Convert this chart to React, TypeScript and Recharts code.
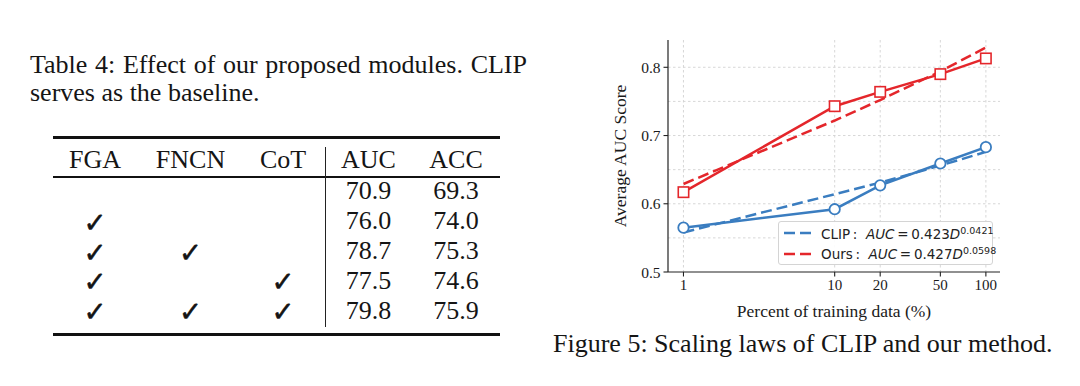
import React from 'react';
import { LineChart, Line, XAxis, YAxis, CartesianGrid, Legend, Label } from 'recharts';

// ---- chart data ----
const percents = [1, 10, 20, 50, 100];
const clipAuc = [0.565, 0.592, 0.627, 0.659, 0.683];
const oursAuc = [0.617, 0.743, 0.764, 0.79, 0.813];
const clipFit = [0.558, 0.614, 0.631, 0.656, 0.676];
const oursFit = [0.629, 0.722, 0.752, 0.794, 0.829];
const xTicks = [1, 10, 20, 50, 100];
const xMinorTicks = [0.8, 0.9, 2, 3, 4, 5, 6, 7, 8, 9, 30, 40, 60, 70, 80, 90];
const yTicks = [0.5, 0.6, 0.7, 0.8];
const yGridValues = [0.55, 0.6, 0.65, 0.7, 0.75, 0.8];
const legendNames = ['CLIP', 'Ours'];
const fitCoefs = ['0.423', '0.427'];
const fitExps = ['0.0421', '0.0598'];

// ---- table data ----
const tableHead = ['FGA', 'FNCN', 'CoT', 'AUC', 'ACC'];
const fgaUsed = [false, true, true, true, true];
const fncnUsed = [false, false, true, false, true];
const cotUsed = [false, false, false, true, true];
const aucVals = ['70.9', '76.0', '78.7', '77.5', '79.8'];
const accVals = ['69.3', '74.0', '75.3', '74.6', '75.9'];

const tableCaption = 'Table 4: Effect of our proposed modules. CLIP serves as the baseline.';
const figureCaption = 'Figure 5: Scaling laws of CLIP and our method.';

const SERIF = '"Liberation Serif", "Times New Roman", serif';
const SANS = '"DejaVu Sans", sans-serif';
const BLUE = '#3a7dc0';
const RED = '#e4262b';
const TXT = '#151515';

const chartData = percents.map((p, i) => ({
  pct: p,
  clip: clipAuc[i],
  ours: oursAuc[i],
  clipFit: clipFit[i],
  oursFit: oursFit[i],
}));

const CircleDot = (props: any) => {
  const { cx, cy, index } = props;
  return <circle key={`c-${index}`} cx={cx} cy={cy} r={5.2} fill="#fff" stroke={BLUE} strokeWidth={1.8} />;
};
const SquareDot = (props: any) => {
  const { cx, cy, index } = props;
  return <rect key={`s-${index}`} x={cx - 5.2} y={cy - 5.2} width={10.4} height={10.4} fill="#fff" stroke={RED} strokeWidth={1.6} />;
};
const EmptyTick = () => <g />;

// font metrics (ascent, descent) in em
const METRICS: Record<string, [number, number]> = {
  [SERIF]: [0.891, 0.216],
  [SANS]: [0.928, 0.236],
};

const Txt = ({ x, base, size = 26, lh, anchor = 'left', family = SERIF, stroke, children }: any) => {
  const L = lh ?? size;
  const [asc, desc] = METRICS[family];
  const top = base - ((L - (asc + desc) * size) / 2 + asc * size);
  return (
    <div
      style={{
        position: 'absolute',
        left: x,
        top,
        height: L,
        fontSize: size,
        lineHeight: `${L}px`,
        fontFamily: family,
        color: TXT,
        whiteSpace: 'nowrap',
        WebkitTextStroke: stroke,
        transform: anchor === 'center' ? 'translateX(-50%)' : undefined,
      }}
    >
      {children}
    </div>
  );
};

const colX = [95, 190.5, 283, 368.5, 456];
const rowBase = [200, 230, 259.7, 289.5, 319.3];

const Check = ({ x, base }: any) => (
  <Txt x={x} base={base + 1.5} size={27.5} lh={22} family={SANS} stroke="0.55px #151515" anchor="center">✓</Txt>
);

const renderLegend = (props: any) => {
  const items = (props.payload || []).filter((p: any) => legendNames.includes(p.value));
  return (
    <div
      style={{
        border: '1px solid #d4d4d4',
        borderRadius: 3,
        background: 'rgba(255,255,255,0.9)',
        width: 215,
        height: 44,
        boxSizing: 'border-box',
        padding: '1px 0 0 5px',
        fontFamily: SANS,
        fontSize: 13.5,
        color: '#222',
      }}
    >
      {items.map((it: any, i: number) => (
        <div key={it.value} style={{ display: 'flex', alignItems: 'center', height: 20.5 }}>
          <svg width={27} height={8} style={{ display: 'block', flexShrink: 0 }}>
            <line x1={0} y1={4} x2={27} y2={4} stroke={it.color} strokeWidth={2.6} strokeDasharray="11 5" />
          </svg>
          <span style={{ marginLeft: 10, whiteSpace: 'nowrap' }}>
            {legendNames[i]}&thinsp;:&nbsp;&nbsp;<i>AUC</i>&thinsp;=&thinsp;{fitCoefs[i]}
            <i>D</i>
            <sup style={{ fontSize: 9.5, verticalAlign: 5 }}>{fitExps[i]}</sup>
          </span>
        </div>
      ))}
    </div>
  );
};

export default function App() {
  return (
    <div style={{ position: 'absolute', left: 0, top: 0, width: 1080, height: 386, background: '#fff', overflow: 'hidden' }}>
      {/* Table caption */}
      <div
        style={{
          position: 'absolute',
          left: 30,
          top: 50.5,
          width: 497,
          fontSize: 26,
          lineHeight: '28px',
          fontFamily: SERIF,
          textAlign: 'justify',
          color: TXT,
        }}
      >
        {tableCaption}
      </div>

      {/* Table rules */}
      <div style={{ position: 'absolute', left: 53, top: 135.8, width: 447, height: 3, background: '#111' }} />
      <div style={{ position: 'absolute', left: 53, top: 176.3, width: 447, height: 2, background: '#111' }} />
      <div style={{ position: 'absolute', left: 53, top: 332.8, width: 447, height: 3, background: '#111' }} />
      <div style={{ position: 'absolute', left: 324.5, top: 146.7, width: 1.3, height: 180.6, background: '#222' }} />

      {tableHead.map((h, i) => (
        <Txt key={h} x={colX[i]} base={168.3} anchor="center">{h}</Txt>
      ))}
      {rowBase.map((b, r) => (
        <React.Fragment key={r}>
          {fgaUsed[r] && <Check x={colX[0]} base={b} />}
          {fncnUsed[r] && <Check x={colX[1]} base={b} />}
          {cotUsed[r] && <Check x={colX[2]} base={b} />}
          <Txt x={colX[3]} base={b} anchor="center">{aucVals[r]}</Txt>
          <Txt x={colX[4]} base={b} anchor="center">{accVals[r]}</Txt>
        </React.Fragment>
      ))}

      {/* Figure caption */}
      <Txt x={553} base={353}>{figureCaption}</Txt>

      {/* Chart */}
      <div style={{ position: 'absolute', left: 600, top: 30 }}>
        <LineChart
          width={420}
          height={300}
          data={chartData}
          margin={{ top: 10, right: 20, bottom: 8, left: 8 }}
          style={{ fontFamily: SERIF }}
        >
          <CartesianGrid
            stroke="#d2d2d2"
            strokeDasharray="2.5 2.5"
            strokeWidth={0.9}
            horizontalValues={yGridValues}
            verticalValues={xTicks}
          />
          <XAxis
            xAxisId="minor"
            dataKey="pct"
            type="number"
            scale="log"
            domain={[0.79, 124]}
            allowDataOverflow
            ticks={xMinorTicks}
            height={0}
            axisLine={false}
            tick={EmptyTick}
            tickSize={2.5}
            tickLine={{ stroke: '#222', strokeWidth: 0.9 }}
          />
          <XAxis
            dataKey="pct"
            type="number"
            scale="log"
            domain={[0.79, 124]}
            allowDataOverflow
            ticks={xTicks}
            height={50}
            tickSize={4.5}
            tickMargin={3}
            axisLine={{ stroke: '#222', strokeWidth: 1.2 }}
            tickLine={{ stroke: '#222', strokeWidth: 1.1 }}
            tick={{ fontFamily: SERIF, fontSize: 15, fill: '#1a1a1a' }}
          >
            <Label
              value="Percent of training data (%)"
              position="insideBottom"
              offset={5}
              style={{ fontFamily: SERIF, fontSize: 17.5, fill: '#1a1a1a' }}
            />
          </XAxis>
          <XAxis
            xAxisId="top"
            orientation="top"
            dataKey="pct"
            type="number"
            scale="log"
            domain={[0.79, 124]}
            allowDataOverflow
            height={0}
            tick={false}
            tickLine={false}
            axisLine={{ stroke: '#222', strokeWidth: 1.2 }}
          />
          <YAxis
            type="number"
            domain={[0.5, 0.84]}
            allowDataOverflow
            ticks={yTicks}
            width={60}
            tickSize={4.5}
            tickMargin={3}
            axisLine={{ stroke: '#222', strokeWidth: 1.2 }}
            tickLine={{ stroke: '#222', strokeWidth: 1.1 }}
            tick={{ fontFamily: SERIF, fontSize: 15.5, fill: '#1a1a1a' }}
          >
            <Label
              value="Average AUC Score"
              angle={-90}
              position="insideLeft"
              offset={12}
              style={{ fontFamily: SERIF, fontSize: 17.5, fill: '#1a1a1a', textAnchor: 'middle' }}
            />
          </YAxis>
          <YAxis
            yAxisId="right"
            orientation="right"
            type="number"
            domain={[0.5, 0.84]}
            width={0}
            tick={false}
            tickLine={false}
            axisLine={{ stroke: '#222', strokeWidth: 1.2 }}
          />
          <Legend
            layout="vertical"
            align="center"
            verticalAlign="middle"
            content={renderLegend}
            wrapperStyle={{ left: 178, top: 191, width: 215, height: 44 }}
          />
          <Line
            dataKey="clipFit"
            name="CLIP"
            stroke={BLUE}
            strokeWidth={2.5}
            strokeDasharray="11 5"
            dot={false}
            activeDot={false}
            isAnimationActive={false}
          />
          <Line
            dataKey="oursFit"
            name="Ours"
            stroke={RED}
            strokeWidth={2.5}
            strokeDasharray="11 5"
            dot={false}
            activeDot={false}
            isAnimationActive={false}
          />
          <Line
            dataKey="clip"
            stroke={BLUE}
            strokeWidth={2.5}
            dot={CircleDot}
            activeDot={false}
            legendType="none"
            isAnimationActive={false}
          />
          <Line
            dataKey="ours"
            stroke={RED}
            strokeWidth={2.5}
            dot={SquareDot}
            activeDot={false}
            legendType="none"
            isAnimationActive={false}
          />
        </LineChart>
      </div>
    </div>
  );
}
